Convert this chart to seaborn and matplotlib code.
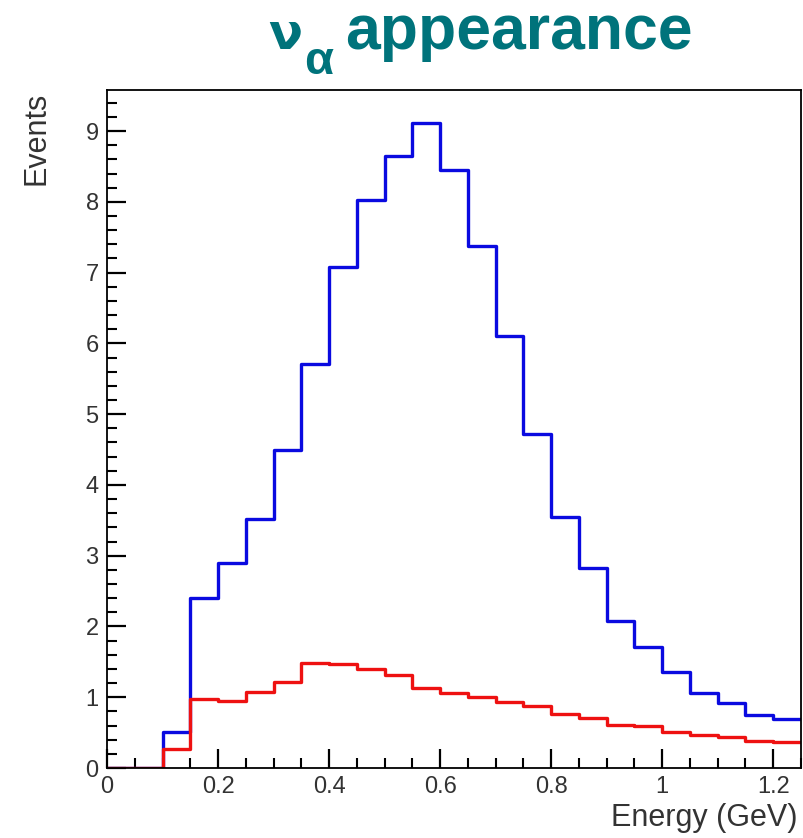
import numpy as np
import pandas as pd
import matplotlib
matplotlib.use("Agg")
import matplotlib.pyplot as plt
import seaborn as sns

# Data: 25 bins of width 0.05 GeV from 0 to 1.25
bin_edges = [round(0.05 * i, 2) for i in range(26)]
blue_events = [0.0, 0.0, 0.51, 2.40, 2.90, 3.52, 4.50, 5.71, 7.08, 8.03, 8.65, 9.12, 8.45,
               7.38, 6.11, 4.72, 3.55, 2.82, 2.08, 1.71, 1.35, 1.06, 0.92, 0.75, 0.69]
red_events = [0.0, 0.0, 0.27, 0.97, 0.94, 1.08, 1.21, 1.48, 1.47, 1.40, 1.31, 1.13, 1.06,
              1.01, 0.93, 0.87, 0.77, 0.71, 0.61, 0.59, 0.51, 0.47, 0.44, 0.38, 0.37]
x_ticks = [0, 0.2, 0.4, 0.6, 0.8, 1.0, 1.2]
x_tick_labels = ["0", "0.2", "0.4", "0.6", "0.8", "1", "1.2"]
y_ticks = [0, 1, 2, 3, 4, 5, 6, 7, 8, 9]

sns.set_style("white")
plt.rcParams['font.family'] = ['Liberation Sans', 'DejaVu Sans']

edges = np.array(bin_edges)
centers = (edges[:-1] + edges[1:]) / 2
blue_df = pd.DataFrame({"energy": centers, "events": blue_events})
red_df = pd.DataFrame({"energy": centers, "events": red_events})

fig = plt.figure(figsize=(8.04, 8.38), dpi=100)
ax = fig.add_axes([107 / 804, 1 - 768 / 838, (801 - 107) / 804, (768 - 90) / 838])

sns.histplot(data=blue_df, x="energy", weights="events", bins=list(bin_edges),
             element="step", fill=False, color="#0a0ae0", linewidth=2.4, ax=ax)
sns.histplot(data=red_df, x="energy", weights="events", bins=list(bin_edges),
             element="step", fill=False, color="#ee1111", linewidth=2.4, ax=ax)

ax.set_xlim(0, 1.25)
ax.set_ylim(0, 9.58)
ax.set_xticks(x_ticks)
ax.set_xticklabels(x_tick_labels)
ax.set_yticks(y_ticks)
ax.set_xticks(np.arange(0, 1.2501, 0.05), minor=True)
ax.set_yticks(np.arange(0, 9.5, 0.2), minor=True)
ax.tick_params(axis="both", which="both", bottom=True, left=True, top=False, right=False)
ax.tick_params(axis="both", which="major", direction="in", length=14, width=1.6,
               labelsize=17, pad=6, colors="black", labelcolor="#333333")
ax.tick_params(axis="both", which="minor", direction="in", length=7, width=1.5,
               colors="black")
for s in ax.spines.values():
    s.set_linewidth(1.3)
    s.set_color("black")

ax.set_xlabel("")
ax.set_ylabel("")
fig.text(798 / 804, 1 - 818 / 838, "Energy (GeV)", ha="right", va="center",
         fontsize=22, color="#333333")
fig.text(37 / 804, 1 - 92 / 838, "Events", ha="center", va="top", rotation=90,
         fontsize=22, color="#333333")

teal = "#00737b"
fig.text(268 / 804, 1 - 49 / 838, "ν", ha="left", va="baseline", fontsize=36,
         fontweight="bold", color=teal, family=["DejaVu Sans"])
fig.text(304 / 804, 1 - 74 / 838, "α", ha="left", va="baseline", fontsize=34,
         fontweight="bold", color=teal)
fig.text(345 / 804, 1 - 49 / 838, "appearance", ha="left", va="baseline", fontsize=45,
         fontweight="bold", color=teal)

fig.savefig("out.png", dpi=100)
